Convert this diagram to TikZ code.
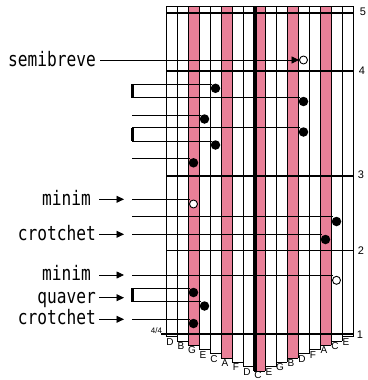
\documentclass[tikz,border=0pt]{standalone}
\usepackage{fontspec}
\usetikzlibrary{arrows.meta}
\newfontfamily\keyfont{Liberation Sans}
\newfontfamily\lblfont[FakeStretch=0.81]{DejaVu Sans Mono}
\definecolor{keypink}{RGB}{233,128,152}
\begin{document}
\begin{tikzpicture}[x=1pt,y=-1pt,
  gridline/.style={line width=0.8pt},
  barline/.style={line width=1.6pt},
  ptr/.style={line width=0.8pt},
  arr/.style={line width=0.8pt,-{Triangle[length=7.5pt,width=7pt]}},
  flag/.style={line width=2.4pt},
  fnote/.style={circle,fill=black,inner sep=0pt,minimum size=9.5pt},
  onote/.style={circle,draw=black,fill=white,line width=0.9pt,inner sep=0pt,minimum size=8pt},
  lbl/.style={font=\lblfont\fontsize{20}{24}\selectfont,inner sep=0pt,anchor=base east},
  num/.style={font=\keyfont\fontsize{11}{13}\selectfont,inner sep=0pt},
  keylbl/.style={font=\keyfont\fontsize{10}{12}\selectfont,inner sep=0pt,anchor=base}]
\useasboundingbox (0,0) rectangle (367,380);

% pink keys
\foreach \k in {2,5,8,11,14}{
  \pgfmathsetmacro\bk{371-4.3*abs(\k-8)}
  \fill[keypink] (166+11*\k,6) rectangle (177+11*\k,\bk);
}
% vertical key lines
\foreach \i in {0,...,17}{
  \pgfmathsetmacro\dd{\i<9 ? 8-\i : \i-9}
  \pgfmathsetmacro\bb{371-4.3*\dd}
  \draw[gridline] (166+11*\i,6) -- (166+11*\i,\bb);
}
% key bottoms and letters
\foreach \n [count=\c from 0] in {D,B,G,E,C,A,F,D,C,E,G,B,D,F,A,C,E}{
  \pgfmathsetmacro\bk{371-4.3*abs(\c-8)}
  \pgfmathsetmacro\by{min(\bk+8.5,378.8)}
  \draw[gridline] (166+11*\c,\bk) -- (177+11*\c,\bk);
  \node[keylbl] (k\c) at (170+11*\c,\by) {\n};
}
% top border and bar lines
\draw[gridline] (166,6) -- (353,6);
\draw[barline] (166,12.7) -- (353,12.7);
\draw[barline] (166,71) -- (353,71);
\draw[barline] (166,175.7) -- (353,175.7);
\draw[barline] (166,250.3) -- (353,250.3);
\draw[barline] (161,334.2) -- (353,334.2);
% centre line
\draw[line width=3.4pt] (255,6) -- (255,371);

% bar numbers
\node[num] (b5) at (363,11.5) {5};
\node[num] (b4) at (362,71) {4};
\node[num] (b3) at (361,174.5) {3};
\node[num] (b2) at (361,251) {2};
\node[num] (b1) at (360,335) {1};
\node[font=\keyfont\fontsize{8}{9}\selectfont,inner sep=0pt,anchor=base] (ts) at (156.5,333.2) {4/4};

% notes
\node[onote] (sb) at (303.5,60) {};
\node[fnote] (n1) at (215.5,88.3) {};
\node[fnote] (n2) at (303.5,101.5) {};
\node[fnote] (n3) at (204.5,119) {};
\node[fnote] (n4) at (303.5,132) {};
\node[fnote] (n5) at (215.5,145) {};
\node[fnote] (n6) at (193.5,162.8) {};
\node[onote] (n7) at (193.5,204) {};
\node[fnote] (n8) at (336.5,221.5) {};
\node[fnote] (n9) at (325.5,239.5) {};
\node[onote] (n10) at (336.5,280.3) {};
\node[fnote] (n11) at (193.5,292.5) {};
\node[fnote] (n12) at (204.5,306) {};
\node[fnote] (n13) at (193.5,323.5) {};

% line starts
\coordinate (sbs) at (100,60);
\coordinate (s1) at (132,84.3);
\coordinate (s2) at (132,97.7);
\coordinate (s3) at (132,115);
\coordinate (s4) at (132,127.7);
\coordinate (s5) at (132,141);
\coordinate (s6) at (132,158.3);
\coordinate (s7) at (132,199.3);
\coordinate (s8) at (132,216.7);
\coordinate (s9) at (132,234.3);
\coordinate (s10) at (132,275);
\coordinate (s11) at (132,288.3);
\coordinate (s12) at (132,301.7);
\coordinate (s13) at (132,319.3);

\draw[arr] (sbs) -- (sb.west);
\foreach \j in {1,...,13}{
  \draw[ptr] (s\j) -- (s\j -| n\j.north west);
}
% quaver flags
\draw[flag] ([xshift=0.3pt]s1) -- ([xshift=0.3pt]s2);
\draw[flag] ([xshift=0.3pt]s4) -- ([xshift=0.3pt]s5);
\draw[flag] ([xshift=0.3pt]s11) -- ([xshift=0.3pt]s12);

% labels
\node[lbl] (L1) at (96,66.5) {semibreve};
\node[lbl] (L2) at (91,205) {minim};
\node[lbl] (L3) at (96,240) {crotchet};
\node[lbl] (L4) at (91,280.5) {minim};
\node[lbl] (L5) at (96,303.2) {quaver};
\node[lbl] (L6) at (96,324.8) {crotchet};

% pointer arrows
\coordinate (a2) at (99,199.3);  \coordinate (e2) at (124,199.3);
\coordinate (a3) at (99,234.3);  \coordinate (e3) at (124,234.3);
\coordinate (a4) at (99,275);    \coordinate (e4) at (124,275);
\coordinate (a5) at (99,297.7);  \coordinate (e5) at (124,297.7);
\coordinate (a6) at (99,319.3);  \coordinate (e6) at (124,319.3);
\foreach \j in {2,...,6}{ \draw[arr] (a\j) -- (e\j); }
\end{tikzpicture}
\end{document}
